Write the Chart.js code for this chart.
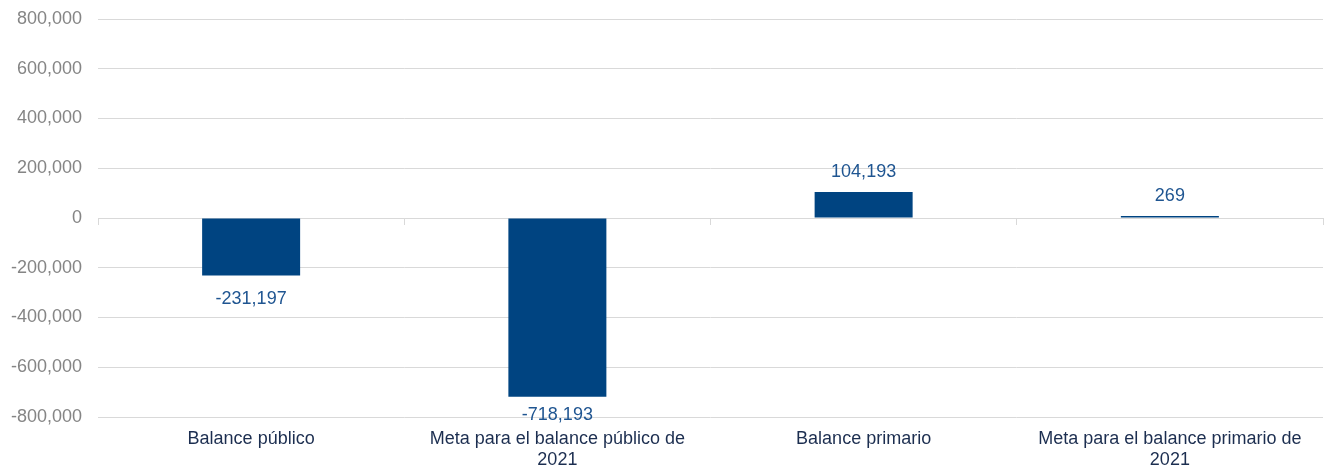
<!DOCTYPE html>
<html>
<head>
<meta charset="utf-8">
<script src="https://cdn.jsdelivr.net/npm/chart.js@4/dist/chart.umd.min.js"></script>
<style>
html,body{margin:0;padding:0;background:#fff;}
#wrap{width:1324px;height:470px;position:relative;}
</style>
</head>
<body>
<div id="wrap"><canvas id="c"></canvas></div>
<script>
const categories = [
  ["Balance público"],
  ["Meta para el balance público de", "2021"],
  ["Balance primario"],
  ["Meta para el balance primario de", "2021"]
];
const values = [-231197, -718193, 104193, 269];
const yTicks = { min: -800000, max: 800000, step: 200000 };

const fmt = v => Math.round(v).toLocaleString('en-US');

const labelPlugin = {
  id: 'valueLabels',
  afterDatasetsDraw(chart) {
    const ctx = chart.ctx;
    const meta = chart.getDatasetMeta(0);
    ctx.save();
    ctx.font = '18px "Liberation Sans", Arial, sans-serif';
    ctx.fillStyle = '#1f5591';
    ctx.textAlign = 'center';
    meta.data.forEach((bar, i) => {
      const v = values[i];
      if (v >= 0) {
        ctx.textBaseline = 'bottom';
        ctx.fillText(fmt(v), bar.x, bar.y - 11);
      } else {
        ctx.textBaseline = 'top';
        const y = Math.min(bar.y + 15, chart.chartArea.bottom - 11);
        ctx.fillText(fmt(v), bar.x, y);
      }
    });
    ctx.restore();
  }
};

new Chart(document.getElementById('c'), {
  type: 'bar',
  data: {
    labels: categories,
    datasets: [{
      data: values,
      backgroundColor: '#004481',
      borderColor: '#004481',
      borderWidth: 0,
      categoryPercentage: 1,
      barPercentage: 0.32,
      minBarLength: 2
    }]
  },
  options: {
    responsive: true,
    maintainAspectRatio: false,
    animation: false,
    layout: { padding: { top: 19, right: 1, left: 0, bottom: 0 } },
    plugins: { legend: { display: false }, tooltip: { enabled: false } },
    scales: {
      x: {
        position: 'bottom',
        grid: { display: false, drawTicks: false },
        border: { display: false },
        afterFit: s => { s.height = 53; s.paddingLeft = 0; s.paddingRight = 0; },
        ticks: {
          color: '#1c2e50',
          font: { family: '"Liberation Sans", Arial, sans-serif', size: 18, lineHeight: 1.15 },
          padding: 12,
          maxRotation: 0,
          autoSkip: false
        }
      },
      x0: {
        type: 'category',
        position: { y: 0 },
        labels: categories,
        offset: true,
        grid: { offset: true, drawOnChartArea: false, drawTicks: true, tickLength: 6, color: '#d9d9d9' },
        border: { display: true, color: '#d9d9d9' },
        ticks: { display: false }
      },
      y: {
        min: yTicks.min,
        max: yTicks.max,
        afterFit: s => { s.width = 98; s.paddingTop = 0; s.paddingBottom = 0; },
        ticks: {
          stepSize: yTicks.step,
          color: '#858585',
          font: { family: '"Liberation Sans", Arial, sans-serif', size: 18 },
          padding: 16,
          callback: v => fmt(v)
        },
        grid: { color: '#d9d9d9', drawTicks: false, lineWidth: 1 },
        border: { display: false }
      }
    }
  },
  plugins: [labelPlugin]
});
</script>
</body>
</html>
